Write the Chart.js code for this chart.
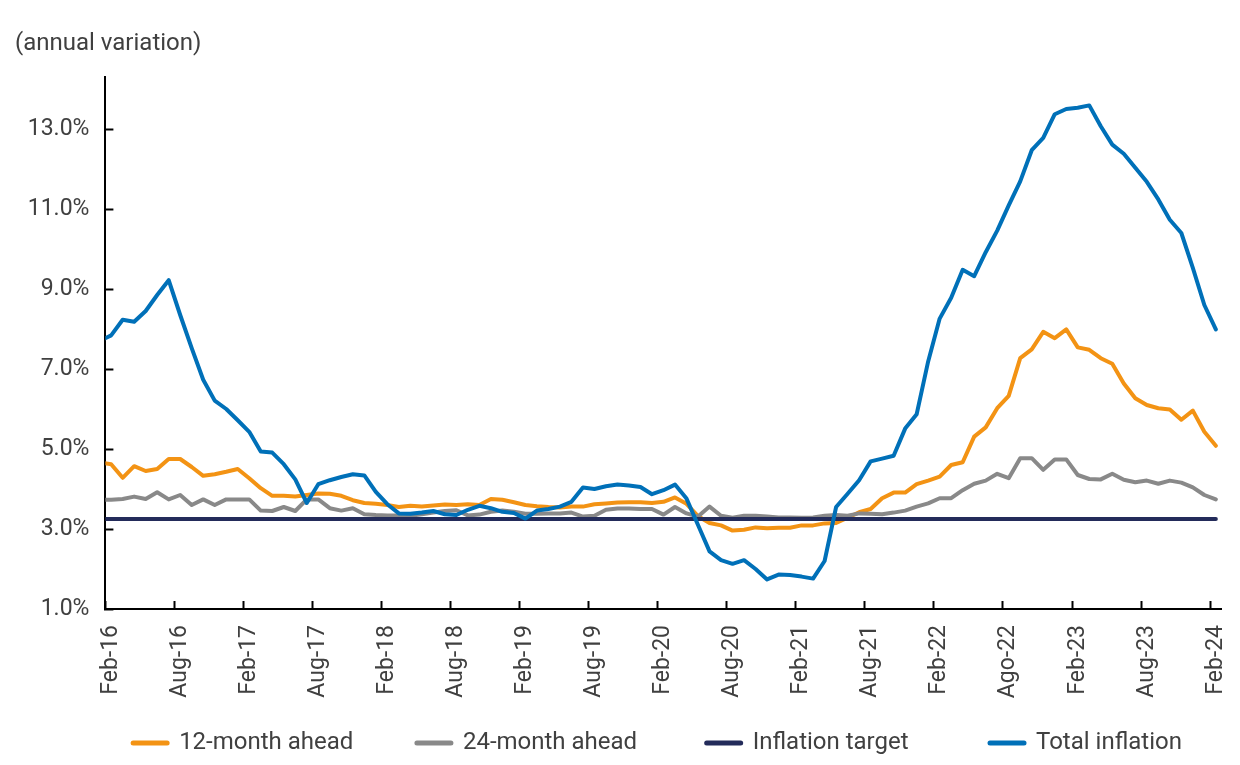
<!DOCTYPE html>
<html>
<head>
<meta charset="utf-8">
<script src="https://cdn.jsdelivr.net/npm/chart.js@4.4.1/dist/chart.umd.min.js"></script>
<style>
  html, body { margin: 0; padding: 0; background: #ffffff; }
  #wrap { width: 1240px; height: 765px; }
</style>
</head>
<body>
<div id="wrap"><canvas id="c" width="1240" height="765"></canvas></div>
<script>
// ---- categories (monthly, Jan-16 .. Feb-24; Jan-16 sits just left of the axis) ----
const monthNames = ['Jan','Feb','Mar','Apr','May','Jun','Jul','Aug','Sep','Oct','Nov','Dec'];
const categories = [];
for (let y = 16; y <= 24; y++) {
  for (let m = 0; m < 12; m++) {
    if (y === 24 && m > 1) break;
    categories.push(monthNames[m] + '-' + y);
  }
}
const firstShown = 'Feb-16';

// ---- tick labels (every 6 months) ----
const tickLabels = ['Feb-16','Aug-16','Feb-17','Aug-17','Feb-18','Aug-18','Feb-19','Aug-19',
  'Feb-20','Aug-20','Feb-21','Aug-21','Feb-22','Ago-22','Feb-23','Aug-23','Feb-24'];

// ---- y ticks ----
const yTicks = [1, 3, 5, 7, 9, 11, 13];

// ---- series (values as drawn, %) ----
const expect12m = [4.66,
  4.62, 4.28, 4.57, 4.45, 4.50, 4.75, 4.75, 4.55, 4.33, 4.37, 4.43, 4.50,
  4.27, 4.02, 3.83, 3.83, 3.81, 3.85, 3.89, 3.88, 3.83, 3.72, 3.65, 3.63,
  3.60, 3.55, 3.58, 3.56, 3.59, 3.61, 3.60, 3.62, 3.60, 3.75, 3.73, 3.67,
  3.60, 3.57, 3.55, 3.54, 3.56, 3.56, 3.62, 3.64, 3.66, 3.67, 3.67, 3.65,
  3.68, 3.79, 3.63, 3.32, 3.15, 3.09, 2.96, 2.98, 3.04, 3.02, 3.03, 3.03,
  3.09, 3.09, 3.14, 3.15, 3.28, 3.42, 3.50, 3.77, 3.91, 3.91, 4.12, 4.21,
  4.31, 4.60, 4.67, 5.31, 5.54, 6.02, 6.33, 7.27, 7.49, 7.93, 7.77, 7.99,
  7.54, 7.48, 7.27, 7.13, 6.64, 6.27, 6.10, 6.02, 5.99, 5.73, 5.96, 5.43,
  5.08];

const expect24m = [3.73,
  3.73, 3.75, 3.81, 3.75, 3.92, 3.74, 3.85, 3.60, 3.74, 3.60, 3.74, 3.74,
  3.74, 3.46, 3.45, 3.55, 3.45, 3.74, 3.74, 3.52, 3.46, 3.52, 3.37, 3.35,
  3.34, 3.34, 3.33, 3.37, 3.41, 3.45, 3.47, 3.34, 3.36, 3.43, 3.46, 3.43,
  3.38, 3.38, 3.39, 3.39, 3.41, 3.31, 3.33, 3.48, 3.51, 3.51, 3.50, 3.50,
  3.36, 3.55, 3.39, 3.31, 3.56, 3.33, 3.28, 3.33, 3.33, 3.31, 3.29, 3.29,
  3.28, 3.29, 3.33, 3.35, 3.33, 3.39, 3.38, 3.37, 3.41, 3.46, 3.56, 3.64,
  3.77, 3.77, 3.97, 4.13, 4.21, 4.38, 4.27, 4.77, 4.77, 4.48, 4.74, 4.74,
  4.35, 4.25, 4.24, 4.38, 4.23, 4.17, 4.21, 4.13, 4.21, 4.16, 4.04, 3.85,
  3.74];

const totalInflation = [7.70,
  7.84, 8.23, 8.18, 8.45, 8.85, 9.22, 8.35, 7.52, 6.73, 6.21, 6.00, 5.72,
  5.43, 4.94, 4.91, 4.62, 4.24, 3.65, 4.12, 4.22, 4.30, 4.37, 4.34, 3.93,
  3.62, 3.39, 3.38, 3.41, 3.45, 3.37, 3.35, 3.48, 3.58, 3.52, 3.43, 3.40,
  3.26, 3.46, 3.50, 3.56, 3.68, 4.04, 4.00, 4.07, 4.11, 4.09, 4.05, 3.87,
  3.97, 4.11, 3.76, 3.10, 2.44, 2.22, 2.13, 2.22, 2.00, 1.74, 1.86, 1.85,
  1.81, 1.76, 2.20, 3.55, 3.88, 4.22, 4.69, 4.76, 4.83, 5.51, 5.87, 7.19,
  8.26, 8.78, 9.48, 9.32, 9.92, 10.46, 11.09, 11.69, 12.47, 12.78, 13.37, 13.50,
  13.53, 13.59, 13.07, 12.61, 12.38, 12.03, 11.68, 11.24, 10.73, 10.40, 9.53, 8.60,
  7.99];

const targetValue = 3.25;
const targetFrom = 'Jan-16';
const targetTo = 'Feb-24';

// ---- styles ----
const textColor = '#404040';
const colOrange = '#F39314';
const colGray = '#898989';
const colNavy = '#232B5A';
const colBlue = '#0070B8';
const legendPad = [9, 10, 12, 2];

Chart.defaults.font.family = 'Roboto';

const lineStyle = { borderWidth: 4, pointRadius: 0, pointHoverRadius: 0, tension: 0,
  borderJoinStyle: 'round', borderCapStyle: 'round', fill: false,
  clip: { left: 0, top: 6, right: 6, bottom: 6 } };

new Chart(document.getElementById('c'), {
  type: 'line',
  data: {
    labels: categories,
    datasets: [
      Object.assign({ label: '12-month ahead', data: expect12m, borderColor: colOrange, backgroundColor: colOrange, order: 3 }, lineStyle),
      Object.assign({ label: '24-month ahead', data: expect24m, borderColor: colGray, backgroundColor: colGray, order: 2 }, lineStyle),
      Object.assign({ label: 'Inflation target',
        data: [{ x: targetFrom, y: targetValue }, { x: targetTo, y: targetValue }],
        borderColor: colNavy, backgroundColor: colNavy, order: 1 }, lineStyle),
      Object.assign({ label: 'Total inflation', data: totalInflation, borderColor: colBlue, backgroundColor: colBlue, order: 0 }, lineStyle)
    ]
  },
  options: {
    responsive: false,
    animation: false,
    devicePixelRatio: 1,
    events: [],
    layout: { padding: { left: 15, right: 18.4, top: 0, bottom: 0 } },
    scales: {
      x: {
        type: 'category',
        min: firstShown,
        offset: true,
        border: { display: true, color: '#000', width: 2 },
        grid: {
          display: true, drawOnChartArea: false, offset: true,
          tickLength: -8, tickWidth: 2,
          tickColor: (ctx) => (ctx.index !== undefined && ctx.index % 6 === 0) ? '#000' : 'rgba(0,0,0,0)'
        },
        ticks: {
          autoSkip: false, maxRotation: 90, minRotation: 90, padding: 24,
          color: textColor, font: { size: 23 },
          callback: (value, index) => index % 6 === 0 ? tickLabels[index / 6] : ''
        },
        afterFit: (scale) => { scale.height = 112; scale.paddingLeft = 0; scale.paddingRight = 0; }
      },
      y: {
        min: 1, max: 14.3,
        border: { display: true, color: '#000', width: 2 },
        grid: { display: true, drawOnChartArea: false, tickLength: -8, tickWidth: 2, tickColor: '#000' },
        ticks: { padding: 24, color: textColor, font: { size: 23 },
          callback: (v) => Number(v).toFixed(1) + '%' },
        afterBuildTicks: (scale) => { scale.ticks = yTicks.map(v => ({ value: v })); },
        afterFit: (scale) => { scale.width = 90.4; }
      }
    },
    plugins: {
      title: {
        display: true, text: '(annual variation)', align: 'start',
        color: textColor, font: { size: 24, weight: 'normal' },
        padding: { top: 30, bottom: 18.2 }
      },
      legend: {
        display: true, position: 'bottom', fullSize: false,
        labels: {
          usePointStyle: true, pointStyle: 'line', pointStyleWidth: 34,
          padding: 10, color: textColor, font: { size: 24, lineHeight: 1.0 },
          sort: (a, b) => a.datasetIndex - b.datasetIndex,
          generateLabels: (chart) => {
            const items = Chart.defaults.plugins.legend.labels.generateLabels(chart);
            items.sort((a, b) => a.datasetIndex - b.datasetIndex);
            return items.map((it, i) => Object.assign(it, {
              text: it.text + ' '.repeat(legendPad[i]),
              lineWidth: 5, lineCap: 'round', pointStyle: 'line',
              strokeStyle: chart.data.datasets[it.datasetIndex].borderColor
            }));
          }
        }
      },
      tooltip: { enabled: false }
    }
  }
});
</script>
</body>
</html>
